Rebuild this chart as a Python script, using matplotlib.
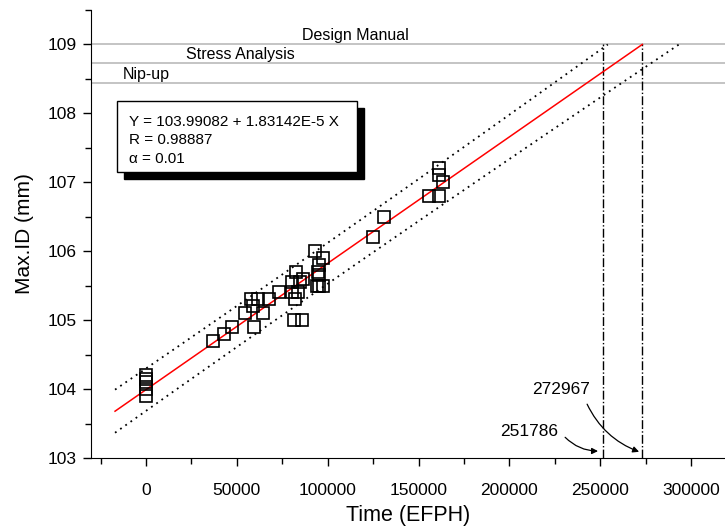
import numpy as np
import matplotlib
matplotlib.use("Agg")
import matplotlib.pyplot as plt
from matplotlib.patches import Rectangle
from matplotlib.ticker import MultipleLocator

plt.rcParams['font.family'] = ['Liberation Sans', 'DejaVu Sans']

# measured points (EFPH, mm)
time_efph = [0, 0, 0, 0, 0,
             36880, 42900, 47350, 54450, 57810, 58900, 59490, 61660, 64430,
             67690, 73220, 80420, 81510, 82000, 82600, 84770, 85850, 86450,
             93060, 94640, 95230, 95230, 97400, 97300, 94340,
             124950, 131070, 155750, 161280, 161280, 161280, 163450,
             80520, 83480, 95330]
max_id = [103.9, 104.0, 104.1, 104.15, 104.2,
          104.7, 104.8, 104.9, 105.1, 105.3, 105.2, 104.9, 105.3, 105.1,
          105.3, 105.4, 105.55, 105.0, 105.3, 105.7, 105.55, 105.0, 105.6,
          106.0, 105.7, 105.8, 105.5, 105.9, 105.5, 105.5,
          106.2, 106.5, 106.8, 106.8, 107.2, 107.1, 107.0,
          105.4, 105.4, 105.65]

# fit reported on the chart
intercept = 103.99082
slope = 1.83142e-5
r_value = 0.98887
alpha = 0.01
band_k = 1.55

limit_names = ["Design Manual", "Stress Analysis", "Nip-up"]
limit_values = [109.0, 108.72, 108.44]
limit_label_x = [115000, 51700, 0]

cross_times = [251786, 272967]
cross_text_pos = [(210800, 103.39), (228200, 104.0)]
arrow_start = [(230700, 103.30), (242800, 103.78)]
arrow_tip = [(248800, 103.10), (271400, 103.09)]

fig = plt.figure(figsize=(7.25, 5.28), dpi=100)
ax = fig.add_axes([91 / 725, 70 / 528, 1 - 91 / 725, 448.5 / 528])

x_obs = np.array(time_efph, float)
y_obs = np.array(max_id, float)
n = len(x_obs)
resid = y_obs - (intercept + slope * x_obs)
s = np.sqrt(np.sum(resid ** 2) / (n - 2))
xbar = x_obs.mean()
sxx = np.sum((x_obs - xbar) ** 2)

x_start = -17070
x_end = (109.0 - intercept) / slope
xs = np.linspace(x_start, 320000, 800)
fit = intercept + slope * xs
hw = band_k * s * np.sqrt(1 + 1 / n + (xs - xbar) ** 2 / sxx)
upper = fit + hw
lower = fit - hw

for nm, v, lx in zip(limit_names, limit_values, limit_label_x):
    ax.axhline(v, color='#c4c4c4', lw=1.4, zorder=1)
    ax.text(lx, v + 0.015, nm, ha='center', va='bottom', fontsize=11.5)

m = xs <= x_end
ax.plot(xs[m], fit[m], color='red', lw=1.1, zorder=3)
mu = upper <= 109.0
ax.plot(xs[mu], upper[mu], color='black', lw=1.3, ls=(0, (1, 2.5)), zorder=2)
ml = lower <= 109.0
ax.plot(xs[ml], lower[ml], color='black', lw=1.3, ls=(0, (1, 2.5)), zorder=2)

ax.plot(time_efph, max_id, ls='none', marker='s', ms=8, mfc='none',
        mec='black', mew=1.2, zorder=4)

for ct in cross_times:
    ax.plot([ct, ct], [103, 109], color='black', lw=1, ls='-.', zorder=2)

for ct, tp, a0, a1 in zip(cross_times, cross_text_pos, arrow_start, arrow_tip):
    ax.text(tp[0], tp[1], str(ct), ha='center', va='center', fontsize=12.5)
    ax.annotate('', xy=a1, xytext=a0,
                arrowprops=dict(arrowstyle='-|>', color='black', lw=0.9,
                                shrinkA=0, shrinkB=0, mutation_scale=9,
                                connectionstyle='arc3,rad=0.2'))

ax.set_xlim(-30300, 318700)
ax.set_ylim(103, 109.5)
ax.xaxis.set_major_locator(MultipleLocator(50000))
ax.xaxis.set_minor_locator(MultipleLocator(25000))
ax.yaxis.set_minor_locator(MultipleLocator(0.5))
ax.set_yticks([103, 104, 105, 106, 107, 108, 109])
ax.tick_params(which='major', direction='out', length=6, width=1, labelsize=12.5)
ax.tick_params(which='minor', direction='out', length=4, width=1)
ax.tick_params(axis='x', which='major', pad=12)
ax.tick_params(axis='y', which='major', pad=4)
ax.spines['top'].set_visible(False)
ax.spines['right'].set_visible(False)
ax.set_xlabel("Time (EFPH)", fontsize=15.5, labelpad=5)
ax.set_ylabel("Max.ID (mm)", fontsize=15, labelpad=10)

# equation box with shadow
bx, by, bw, bh = 117 / 725, 1 - 172 / 528, 240 / 725, 71 / 528
fig.patches.append(Rectangle((bx + 7 / 725, by - 7 / 528), bw, bh,
                             transform=fig.transFigure, facecolor='black',
                             edgecolor='black', zorder=5))
fig.patches.append(Rectangle((bx, by), bw, bh, transform=fig.transFigure,
                             facecolor='white', edgecolor='black', lw=1, zorder=6))
lines = ["Y = %.5f + %.5fE-5 X" % (intercept, slope * 1e5),
         "R = %.5f" % r_value,
         "\u03b1 = %.2f" % alpha]
for i, tx in enumerate(lines):
    fig.text(129 / 725, 1 - (122 + 18.5 * i) / 528, tx, fontsize=11,
             va='center', ha='left', zorder=7)

fig.savefig("out.png", dpi=100)
